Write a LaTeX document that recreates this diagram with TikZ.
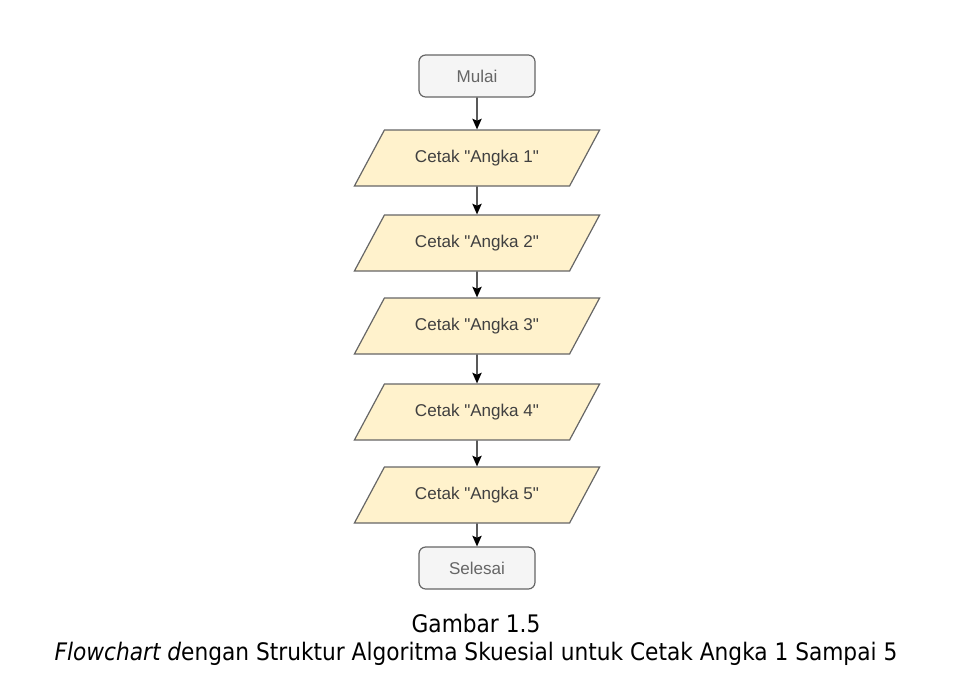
\documentclass[tikz,border=0pt]{standalone}
\usepackage{fontspec}
\setmainfont{Liberation Sans}
\newfontfamily\capfont{DejaVu Sans Condensed}
\usetikzlibrary{shapes.geometric,arrows.meta}
\definecolor{termfill}{HTML}{F5F5F5}
\definecolor{iofill}{HTML}{FFF2CC}
\definecolor{linegray}{HTML}{666666}
\tikzset{
  term/.style={draw=linegray,fill=termfill,rounded corners=5pt,line width=0.9pt,
    minimum width=87pt,minimum height=31.5pt,text=black!60,
    font=\fontsize{12.8}{14}\selectfont},
  io/.style={trapezium,trapezium left angle=49,trapezium right angle=131,
    trapezium stretches=true,draw=linegray,fill=iofill,line width=0.9pt,
    minimum width=184pt,minimum height=42pt,text=black!75,
    font=\fontsize{12.8}{14}\selectfont},
  flow/.style={-{Stealth[length=8pt,width=7pt,inset=1.5pt]},line width=1pt},
  caption/.style={anchor=base,font=\capfont\fontsize{18.1}{21}\selectfont}
}
\newcommand{\qt}{\textquotedbl}
\begin{document}
\begin{tikzpicture}[x=0.75pt,y=-0.75pt]
\useasboundingbox (0,0) rectangle (966,682);
% start / end
\node[term] (mulai) at (477,76) {Mulai};
\node[term] (selesai) at (477,568) {Selesai};
% output steps
\node[io] (cetak1) at (477,158) {Cetak \qt Angka 1\qt};
\node[io] (cetak2) at (477,243) {Cetak \qt Angka 2\qt};
\node[io] (cetak3) at (477,326) {Cetak \qt Angka 3\qt};
\node[io] (cetak4) at (477,412) {Cetak \qt Angka 4\qt};
\node[io] (cetak5) at (477,495) {Cetak \qt Angka 5\qt};
% arrows
\draw[flow] (mulai) -- (cetak1);
\foreach \a/\b in {cetak1/cetak2,cetak2/cetak3,cetak3/cetak4,cetak4/cetak5,cetak5/selesai}
  \draw[flow] (\a) -- (\b);
% caption
\node[caption] (gambar) at (476,632) {Gambar 1.5};
\node[caption] (judul) at (476,660) {\itshape Flowchart d\upshape engan Struktur Algoritma Skuesial untuk Cetak Angka 1 Sampai 5};
\end{tikzpicture}
\end{document}
